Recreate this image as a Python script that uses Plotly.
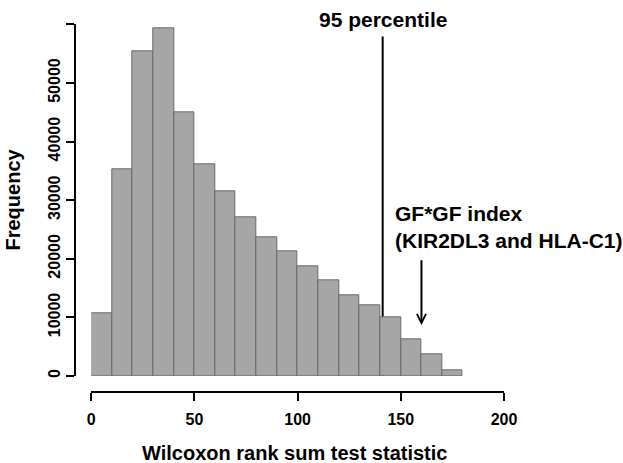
import plotly.graph_objects as go

# histogram counts, bins of width 10 starting at 0
bin_left = [0, 10, 20, 30, 40, 50, 60, 70, 80, 90, 100, 110, 120, 130, 140, 150, 160, 170]
counts = [10650, 35300, 55400, 59250, 45000, 36050, 31500, 27100, 23600, 21250,
          18700, 16300, 13800, 12100, 10000, 6250, 3700, 980]
bin_width = 10

x_ticks = [0, 50, 100, 150, 200]
y_ticks = [0, 10000, 20000, 30000, 40000, 50000, 60000]

percentile_95 = 141.2
gf_index = 160

FONT = "Liberation Sans, Arial, sans-serif"
W, H = 623, 463

fig = go.Figure()

fig.add_trace(go.Bar(
    x=[b + bin_width / 2 for b in bin_left],
    y=counts,
    width=bin_width,
    marker=dict(color="#a6a6a6", line=dict(color="#6a6a6a", width=1)),
    hoverinfo="skip",
    showlegend=False,
))

# 95 percentile line (drawn under the bars, so it stops at the bar top)
fig.add_shape(type="line", xref="x", yref="y", layer="below",
              x0=percentile_95, x1=percentile_95, y0=0, y1=57900,
              line=dict(color="black", width=2))

bold = dict(family=FONT, color="black", weight="bold")

fig.add_annotation(x=percentile_95, y=58500, text="95 percentile", showarrow=False,
                   xanchor="center", yanchor="bottom", font=dict(size=21, **bold))

fig.add_annotation(x=gf_index, y=8700, ax=gf_index, ay=20000, axref="x", ayref="y",
                   text="", showarrow=True, arrowhead=5, arrowsize=0.9,
                   arrowwidth=2, arrowcolor="black")
fig.add_annotation(x=146.2, y=20800, text="GF*GF index<br>(KIR2DL3 and HLA-C1)",
                   showarrow=False, xanchor="left", yanchor="bottom", align="left",
                   font=dict(size=21, **bold))

# axis titles
fig.add_annotation(xref="paper", yref="paper", x=294 / W, y=1 - 452.5 / H,
                   text="Wilcoxon rank sum test statistic", showarrow=False,
                   xanchor="center", yanchor="middle", font=dict(size=20, **bold))
fig.add_annotation(xref="paper", yref="paper", x=12.5 / W, y=1 - 200 / H,
                   text="Frequency", textangle=-90, showarrow=False,
                   xanchor="center", yanchor="middle", font=dict(size=20, **bold))

# R-style axes: lines span only the tick range, offset from the bars
axis_common = dict(
    showline=True, linewidth=2, linecolor="black",
    ticks="outside", ticklen=8, tickwidth=2, tickcolor="black",
    tickfont=dict(size=16, **bold),
    showgrid=False, zeroline=False, automargin=False,
)

fig.update_layout(
    width=W, height=H,
    margin=dict(l=0, r=0, t=0, b=0),
    plot_bgcolor="white", paper_bgcolor="white",
    bargap=0,
    xaxis=dict(
        range=[x_ticks[0], x_ticks[-1]],
        domain=[91.3 / W, 504 / W],
        anchor="free", position=1 - 392 / H,
        tickvals=x_ticks,
        ticklabelstandoff=5,
        **axis_common,
    ),
    yaxis=dict(
        range=[y_ticks[0], y_ticks[-1]],
        domain=[1 - 376 / H, 1 - 24.3 / H],
        anchor="free", position=75 / W,
        tickvals=y_ticks,
        ticktext=[str(v) for v in y_ticks],
        tickangle=-90,
        **axis_common,
    ),
)

fig.write_html("out.html", config={"displayModeBar": False},
               post_script="document.body.style.margin='0';")
